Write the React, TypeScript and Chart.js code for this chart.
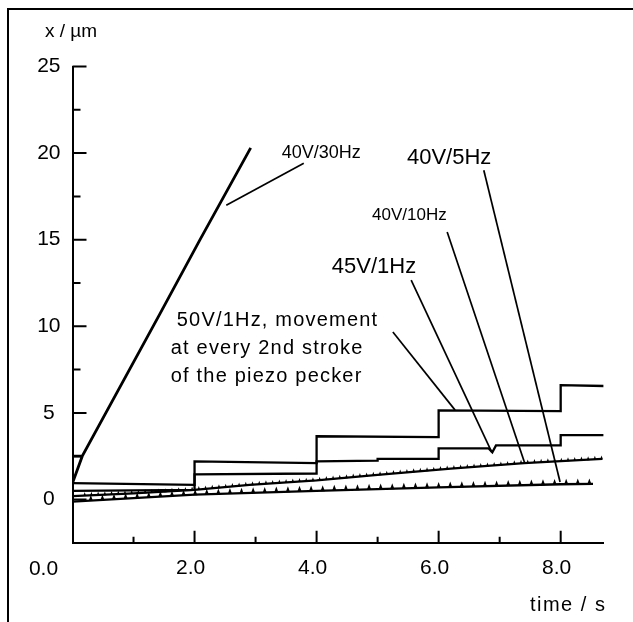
import React, { useEffect, useRef } from 'react';
import { Chart, registerables } from 'chart.js';

Chart.register(...registerables);

// ---------- data ----------
// time axis (s) and displacement axis (µm)
const X_MIN = 0;
const X_MAX = 8.7;
const Y_MIN = -2.5;
const Y_MAX = 25;
const X_STEP = 2;
const Y_STEP = 5;

// 40V/30Hz
const t30 = [0.15, 0, 0, 0.16, 1.43, 2.09, 2.92];
const x30 = [2.5, 2.5, 0.95, 2.5, 10.7, 15.0, 20.3];

// 50V/1Hz, movement at every 2nd stroke
const t50 = [0, 2, 2, 4, 4, 6, 6, 8, 8, 8.76];
const x50 = [0.95, 0.84, 2.2, 2.1, 3.65, 3.6, 5.15, 5.1, 6.6, 6.55];

// 45V/1Hz
const t45 = [0, 2, 2, 4, 4, 5, 5, 6, 6, 6.82, 6.88, 6.94, 8, 8, 8.84];
const x45 = [0.5, 0.55, 1.45, 1.5, 2.2, 2.25, 2.35, 2.35, 2.95, 2.95, 2.72, 3.12, 3.12, 3.72, 3.72];

// 40V/10Hz
const t10 = [0, 1, 2, 2.9, 4, 5, 6.2, 7.4, 8.68];
const x10 = [0.2, 0.35, 0.55, 0.84, 1.1, 1.42, 1.78, 2.1, 2.34];

// 40V/5Hz
const t5 = [0, 2, 4, 6, 8, 8.53];
const x5 = [-0.12, 0.28, 0.5, 0.7, 0.88, 0.9];

const X_TITLE = 'time / s';
const Y_TITLE = 'x / µm';

// ---------- layout / annotation styling ----------
const FONT = '"Liberation Sans", Arial, Helvetica, sans-serif';

const ANNOTATIONS = [
  { lines: ['40V/30Hz'], at: [3.43, 20.0], size: 18, spacing: 0, indent: [0], from: [3.79, 19.42], to: [2.52, 16.99] },
  { lines: ['40V/5Hz'], at: [5.48, 19.7], size: 22, spacing: 0, indent: [0], from: [6.74, 19.01], to: [7.99, 1.01] },
  { lines: ['40V/10Hz'], at: [4.91, 16.42], size: 17, spacing: 0, indent: [0], from: [6.14, 15.44], to: [7.41, 2.11] },
  { lines: ['45V/1Hz'], at: [4.25, 13.42], size: 22, spacing: 0, indent: [0], from: [5.55, 12.67], to: [6.87, 2.74] },
  {
    lines: ['50V/1Hz, movement', 'at every 2nd stroke', 'of the piezo pecker'],
    at: [1.61, 10.36], size: 20, spacing: 1.2, indent: [6, 0, 0],
    from: [5.25, 9.67], to: [6.27, 5.16],
  },
];

const pts = (t: number[], v: number[]) => t.map((x, i) => ({ x, y: v[i] }));

const framePlugin = {
  id: 'frame',
  beforeDraw(chart: any) {
    const { ctx, width, height } = chart;
    ctx.save();
    ctx.fillStyle = '#ffffff';
    ctx.fillRect(0, 0, width, height);
    ctx.strokeStyle = '#000';
    ctx.lineWidth = 2;
    ctx.beginPath();
    ctx.moveTo(8, height);
    ctx.lineTo(8, 9);
    ctx.lineTo(width, 9);
    ctx.stroke();
    ctx.restore();
  },
};

const axesPlugin = {
  id: 'inwardAxes',
  afterDraw(chart: any) {
    const { ctx } = chart;
    const xs = chart.scales.x;
    const ys = chart.scales.y;
    const left = xs.left;
    const bottom = ys.bottom;
    ctx.save();
    ctx.strokeStyle = '#000';
    ctx.lineWidth = 2;
    // y ticks
    const yt = ys.ticks.map((t: any) => t.value);
    ctx.beginPath();
    yt.forEach((v: number, i: number) => {
      const p = ys.getPixelForValue(v);
      ctx.moveTo(left, p);
      ctx.lineTo(left + 14, p);
      if (i < yt.length - 1) {
        const m = ys.getPixelForValue((v + yt[i + 1]) / 2);
        ctx.moveTo(left, m);
        ctx.lineTo(left + 8, m);
      }
    });
    // x ticks
    const xt = xs.ticks.map((t: any) => t.value);
    xt.forEach((v: number, i: number) => {
      const p = xs.getPixelForValue(v);
      if (v !== X_MIN) {
        ctx.moveTo(p, bottom);
        ctx.lineTo(p, bottom - 12);
      }
      if (i < xt.length - 1) {
        const m = xs.getPixelForValue((v + xt[i + 1]) / 2);
        ctx.moveTo(m, bottom);
        ctx.lineTo(m, bottom - 6);
      }
    });
    ctx.stroke();

    // "0.0" label, set apart to the left of the origin as in the original
    ctx.fillStyle = '#000';
    ctx.font = `21px ${FONT}`;
    ctx.textAlign = 'center';
    ctx.textBaseline = 'middle';
    ctx.fillText(X_MIN.toFixed(1), xs.getPixelForValue(X_MIN) - 29, 569);

    // axis titles
    (ctx as any).letterSpacing = '1.5px';
    ctx.font = `20px ${FONT}`;
    ctx.textAlign = 'right';
    ctx.fillText(X_TITLE, xs.right + 3, 605);
    (ctx as any).letterSpacing = '0px';
    ctx.font = `19px ${FONT}`;
    ctx.textAlign = 'left';
    ctx.fillText(Y_TITLE, 45, 32);

    // annotations
    ANNOTATIONS.forEach((a) => {
      ctx.font = `${a.size}px ${FONT}`;
      (ctx as any).letterSpacing = `${a.spacing}px`;
      ctx.textAlign = 'left';
      ctx.textBaseline = 'middle';
      const x0 = xs.getPixelForValue(a.at[0]);
      const y0 = ys.getPixelForValue(a.at[1]);
      a.lines.forEach((line, i) => {
        ctx.fillText(line, x0 + (a.indent[i] || 0), y0 + i * 28);
      });
      (ctx as any).letterSpacing = '0px';
      ctx.lineWidth = 1.7;
      ctx.beginPath();
      ctx.moveTo(xs.getPixelForValue(a.from[0]), ys.getPixelForValue(a.from[1]));
      ctx.lineTo(xs.getPixelForValue(a.to[0]), ys.getPixelForValue(a.to[1]));
      ctx.stroke();
    });
    ctx.restore();
  },
};

// small "teeth" drawn along a trace, one per piezo stroke
const teethPlugin = {
  id: 'teeth',
  afterDatasetsDraw(chart: any) {
    const { ctx } = chart;
    const xs = chart.scales.x;
    ctx.save();
    ctx.fillStyle = '#000';
    chart.data.datasets.forEach((ds: any, i: number) => {
      const tooth = ds.tooth;
      if (!tooth) return;
      const els = chart.getDatasetMeta(i).data;
      const step = xs.getPixelForValue(tooth.period) - xs.getPixelForValue(0);
      let next = xs.getPixelForValue(tooth.start);
      for (let k = 0; k < els.length - 1; k++) {
        const a = els[k];
        const b = els[k + 1];
        if (b.x <= a.x) continue;
        while (next <= b.x) {
          if (next >= a.x) {
            const y = a.y + ((b.y - a.y) * (next - a.x)) / (b.x - a.x);
            ctx.beginPath();
            ctx.moveTo(next - tooth.w, y + 0.5);
            ctx.lineTo(next, y - tooth.h);
            ctx.lineTo(next + tooth.w, y + 0.5);
            ctx.closePath();
            ctx.fill();
          }
          next += step;
        }
      }
    });
    ctx.restore();
  },
};

export default function App() {
  const ref = useRef<HTMLCanvasElement | null>(null);

  useEffect(() => {
    if (!ref.current) return;
    Chart.defaults.font.family = FONT;
    Chart.defaults.color = '#000';
    const line = (data: any[], width: number, extra: any = {}) => ({
      data,
      borderColor: '#000',
      backgroundColor: '#000',
      borderWidth: width,
      pointRadius: 0,
      tension: 0,
      fill: false,
      ...extra,
    });
    const chart = new Chart(ref.current, {
      type: 'line',
      data: {
        datasets: [
          line(pts(t30, x30), 2.8, { label: '40V/30Hz' }),
          line(pts(t50, x50), 2.3, { label: '50V/1Hz' }),
          line(pts(t45, x45), 2.3, { label: '45V/1Hz' }),
          line(pts(t10, x10), 2.3, { label: '40V/10Hz', tooth: { period: 0.11, start: 0.2, h: 3.5, w: 1.4 } }),
          line(pts(t5, x5), 2.3, { label: '40V/5Hz', tooth: { period: 0.19, start: 0.3, h: 5.5, w: 2.2 } }),
        ] as any,
      },
      options: {
        responsive: false,
        animation: false,
        devicePixelRatio: 1,
        layout: { padding: { left: 0, top: 66.5, right: 29.6, bottom: 0 } },
        plugins: { legend: { display: false }, tooltip: { enabled: false } },
        scales: {
          x: {
            type: 'linear',
            min: X_MIN,
            max: X_MAX,
            grid: { display: false, drawTicks: false },
            border: { display: true, color: '#000', width: 2 },
            ticks: {
              stepSize: X_STEP,
              includeBounds: false,
              padding: 13,
              labelOffset: -4,
              font: { size: 21 },
              color: '#000',
              maxRotation: 0,
              callback: (v: any) => (Number(v) === X_MIN ? '' : Number(v).toFixed(1)),
            },
            afterFit: (s: any) => { s.height = 79.2; },
          },
          y: {
            type: 'linear',
            min: Y_MIN,
            max: Y_MAX,
            grid: { display: false, drawTicks: false },
            border: { display: true, color: '#000', width: 2 },
            ticks: {
              stepSize: Y_STEP,
              includeBounds: false,
              padding: 12,
              crossAlign: 'center',
              font: { size: 21 },
              color: '#000',
              callback: (v: any) => String(v),
            },
            afterFit: (s: any) => { s.width = 72.5; },
          },
        },
      } as any,
      plugins: [framePlugin, axesPlugin, teethPlugin],
    });
    return () => chart.destroy();
  }, []);

  return (
    <div style={{ position: 'absolute', left: 0, top: 0, width: 633, height: 622 }}>
      <canvas ref={ref} width={633} height={622} />
    </div>
  );
}
